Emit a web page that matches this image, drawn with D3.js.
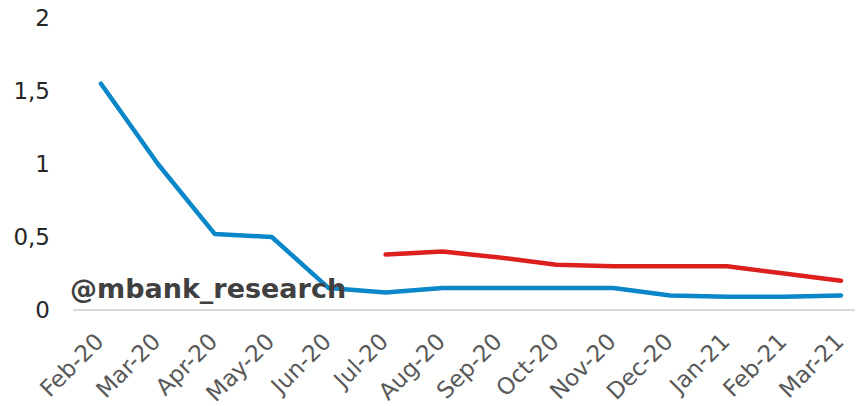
<!DOCTYPE html>
<html lang="en">
  <head>
    <meta charset="UTF-8" />
    <title>mBank chart</title>
    <script src="https://d3js.org/d3.v7.min.js"></script>
    <style>
      body { margin: 0; background: #fff; }
      text { font-family: 'DejaVu Sans', Verdana, sans-serif; }
    </style>
  </head>
  <body>
    <div id="chart"></div>
    <script>
      const months = ['Feb-20', 'Mar-20', 'Apr-20', 'May-20', 'Jun-20', 'Jul-20', 'Aug-20',
        'Sep-20', 'Oct-20', 'Nov-20', 'Dec-20', 'Jan-21', 'Feb-21', 'Mar-21'];
      const blueValues = [1.55, 1.0, 0.52, 0.5, 0.15, 0.12, 0.15, 0.15, 0.15, 0.15, 0.1, 0.09, 0.09, 0.1];
      const redValues = [null, null, null, null, null, 0.38, 0.4, 0.36, 0.31, 0.3, 0.3, 0.3, 0.25, 0.2];
      const yTicks = [0, 0.5, 1, 1.5, 2];

      const width = 858;
      const height = 406;

      const svg = d3.select('#chart').append('svg')
        .attr('width', width).attr('height', height);

      const x = d3.scalePoint().domain(months).range([101, 841]);
      const y = d3.scaleLinear().domain([0, 2]).range([310, 18]);

      // axis line
      svg.append('line')
        .attr('x1', 73).attr('x2', 855)
        .attr('y1', y(0)).attr('y2', y(0))
        .attr('stroke', '#d9d9d9').attr('stroke-width', 2);

      // y labels
      svg.append('g').selectAll('text')
        .data(yTicks).enter().append('text')
        .attr('x', 50).attr('y', (d) => y(d))
        .attr('dy', '0.36em')
        .attr('text-anchor', 'end')
        .attr('font-size', 23)
        .attr('fill', '#262626')
        .text((d) => String(d).replace('.', ','));

      // x labels
      svg.append('g').selectAll('text')
        .data(months).enter().append('text')
        .attr('transform', (d) => `translate(${x(d) + 4},${343}) rotate(-45)`)
        .attr('text-anchor', 'end')
        .attr('font-size', 23)
        .attr('fill', '#595959')
        .text((d) => d);

      const line = d3.line()
        .defined((d) => d.v !== null)
        .x((d) => x(d.m))
        .y((d) => y(d.v));

      const series = [
        { values: blueValues, color: '#0a87c9' },
        { values: redValues, color: '#dc1f1f' },
      ];

      svg.append('g').selectAll('path')
        .data(series).enter().append('path')
        .attr('d', (s) => line(months.map((m, i) => ({ m: m, v: s.values[i] }))))
        .attr('fill', 'none')
        .attr('stroke', (s) => s.color)
        .attr('stroke-width', 4.5)
        .attr('stroke-linejoin', 'round')
        .attr('stroke-linecap', 'round');

      // watermark sits on top of the lines
      svg.append('text')
        .attr('x', 70).attr('y', 298)
        .attr('font-size', 27)
        .attr('font-weight', 'bold')
        .attr('fill', '#404040')
        .text('@mbank_research');
    </script>
  </body>
</html>
